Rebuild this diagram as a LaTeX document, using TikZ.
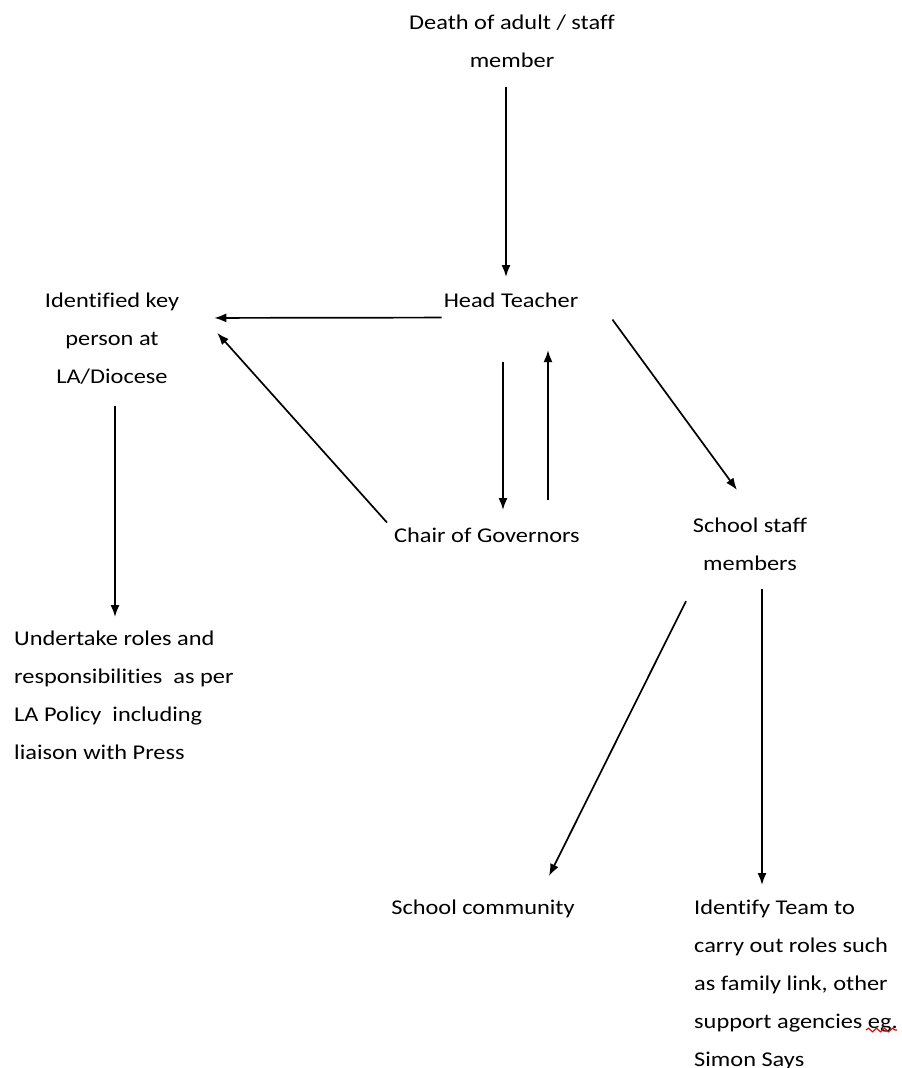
\documentclass[tikz,border=0pt]{standalone}
\usepackage{fontspec}
\setmainfont{Carlito}[FakeStretch=1.16,Ligatures=CommonOff]
\usetikzlibrary{arrows.meta,decorations.pathmorphing}
\begin{document}
\begin{tikzpicture}[x=1pt,y=-1pt,
  lbl/.style={inner sep=0pt,anchor=north,align=center,
    font=\fontsize{21}{38}\selectfont,text=black},
  lbll/.style={lbl,anchor=north west,align=left},
  arr/.style={line width=1.7pt,-{Latex[length=12pt,width=9pt]}}]
\useasboundingbox (0,0) rectangle (902,1068);
\clip (0,0) rectangle (902,1068);
\fill[white] (0,0) rectangle (902,1068);

% labels
\node[lbl] (death) at (512,15) {Death of adult / staff\\member};
\node[lbl] (head)  at (511,293) {Head Teacher};
\node[lbl] (keyp)  at (112,293) {Identified key\\person at\\LA/Diocese};
\node[lbl] (chair) at (487,528) {Chair of Governors};
\node[lbl] (staff) at (750,518) {School staff\\members};
\node[lbll] (undertake) at (14,631) {Undertake roles and\\responsibilities\ \ as per\\LA Policy\ \ including\\liaison with Press};
\node[lbl] (community) at (483,900) {School community};
\node[lbll] (ident) at (694,900) {Identify Team to\\carry out roles such\\as family link, other\\support agencies eg.\\Simon Says};

% spelling mark under "eg."
\draw[red!85!black,line width=1.1pt,decorate,decoration={snake,amplitude=1.8pt,segment length=8pt}]
  ([xshift=172pt,yshift=-130pt]ident.north west) -- ([xshift=203pt,yshift=-130pt]ident.north west);

% connectors
\draw[arr] ([xshift=-6pt,yshift=-19pt]death.south) -- ([xshift=-5pt,yshift=16pt]head.north);
\draw[arr] ([xshift=-2pt,yshift=-17pt]head.west) -- ([xshift=35pt,yshift=21pt]keyp.east);
\draw[arr] ([xshift=-7pt,yshift=13pt]chair.west) -- ([xshift=38pt,yshift=6pt]keyp.east);
\draw[arr] ([xshift=-8pt,yshift=-54pt]head.south) -- ([xshift=16pt,yshift=18pt]chair.north);
\draw[arr] ([xshift=61pt,yshift=28pt]chair.north) -- ([xshift=37pt,yshift=-42pt]head.south);
\draw[arr] ([xshift=34pt,yshift=-19pt]head.east) -- ([xshift=-13pt,yshift=28pt]staff.north);
\draw[arr] ([xshift=3pt,yshift=-21pt]keyp.south) -- ([xshift=101pt,yshift=14pt]undertake.north west);
\draw[arr] ([xshift=-64pt,yshift=-30pt]staff.south) -- ([xshift=66pt,yshift=24pt]community.north);
\draw[arr] ([xshift=12pt,yshift=-18pt]staff.south) -- ([xshift=68pt,yshift=15pt]ident.north west);
\end{tikzpicture}
\end{document}
